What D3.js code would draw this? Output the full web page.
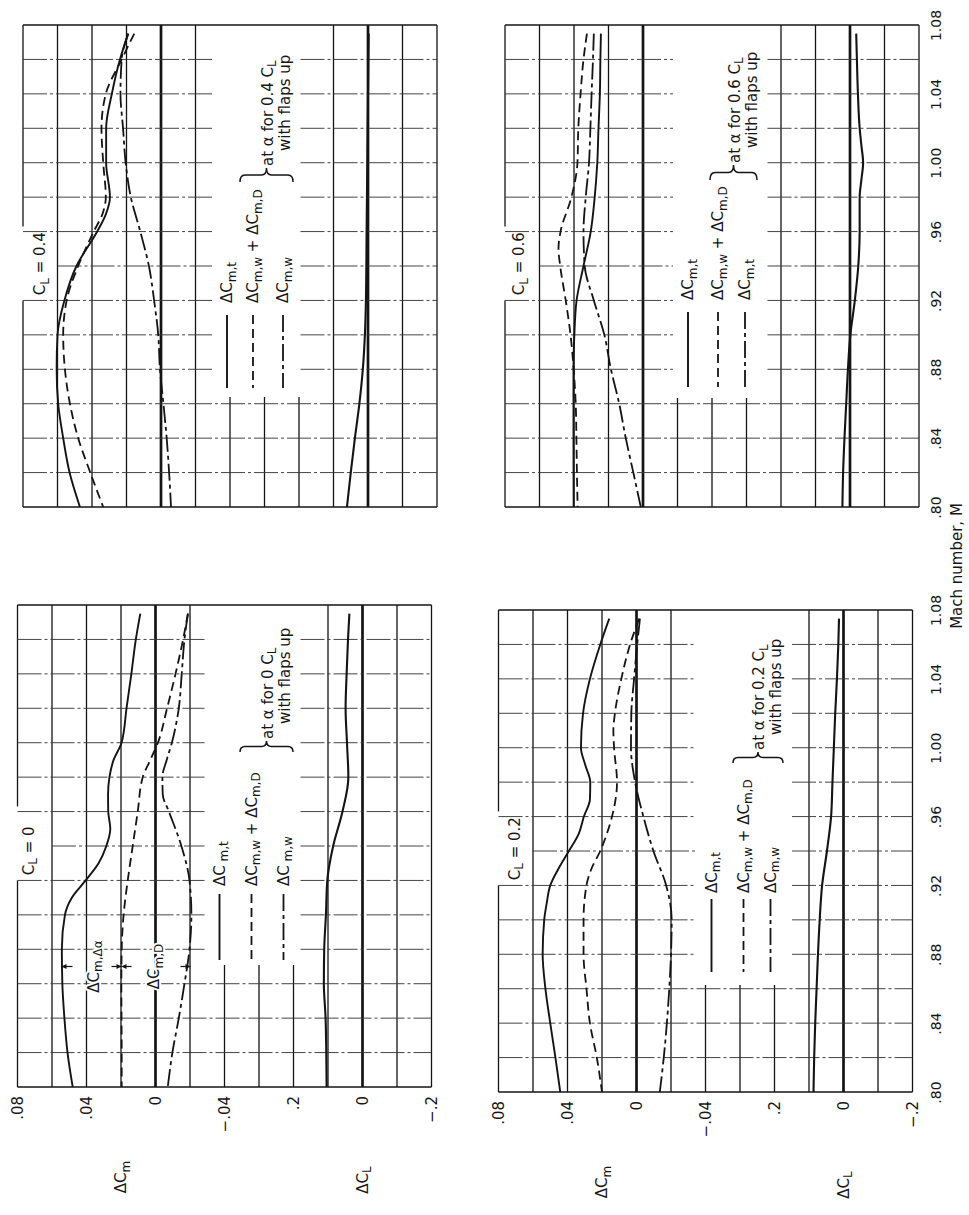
<!DOCTYPE html>
<html><head><meta charset="utf-8">
<script src="https://cdn.jsdelivr.net/npm/d3@7"></script>
<style>
body{margin:0;background:#fff}
svg{display:block}
text{font-family:"DejaVu Sans","Liberation Sans",sans-serif;fill:#161616}
</style>
</head><body>
<svg id="c" width="969" height="1215"></svg>
<script>
// ---------------- DATA ----------------
const MACH_TICKS = [0.80, 0.84, 0.88, 0.92, 0.96, 1.00, 1.04, 1.08];
const MACH_LABELS = [".80", ".84", ".88", ".92", ".96", "1.00", "1.04", "1.08"];
const CM_TICKS = [0.08, 0.04, 0, -0.04];
const CM_LABELS = [".08", ".04", "0", "\u2212.04"];
const CL_TICKS = [0.2, 0, -0.2];
const CL_LABELS = [".2", "0", "\u2212.2"];
const PANEL_CL = ["0", "0.2", "0.4", "0.6"];

// [Mach, value]  — C_L = 0
const cl0_cmt  = [[0.80,0.048],[0.82,0.051],[0.84,0.0528],[0.86,0.054],[0.88,0.0543],[0.90,0.0525],[0.91,0.0485],[0.92,0.0405],[0.93,0.033],[0.94,0.0285],[0.95,0.0262],[0.96,0.0274],[0.97,0.0275],[0.98,0.0267],[0.99,0.0243],[1.00,0.0197],[1.02,0.0168],[1.04,0.014],[1.06,0.0114],[1.075,0.0088]];
const cl0_cmwd = [[0.80,0.0196],[0.82,0.0196],[0.84,0.0197],[0.86,0.0198],[0.88,0.0196],[0.90,0.0185],[0.92,0.0161],[0.94,0.0132],[0.96,0.0103],[0.98,0.0074],[0.99,0.003],[1.00,-0.0014],[1.02,-0.0067],[1.04,-0.0116],[1.06,-0.016],[1.075,-0.0188]];
const cl0_cmw  = [[0.80,-0.0071],[0.82,-0.0098],[0.84,-0.0135],[0.86,-0.0168],[0.88,-0.0197],[0.90,-0.0208],[0.92,-0.0197],[0.94,-0.015],[0.96,-0.0078],[0.97,-0.0042],[0.98,-0.004],[0.99,-0.0065],[1.00,-0.0095],[1.02,-0.0135],[1.04,-0.0152],[1.06,-0.0168],[1.075,-0.0188]];
const cl0_dcl  = [[0.80,0.104],[0.82,0.105],[0.84,0.107],[0.86,0.112],[0.88,0.111],[0.90,0.106],[0.92,0.102],[0.94,0.085],[0.96,0.058],[0.98,0.041],[1.00,0.045],[1.02,0.049],[1.04,0.046],[1.06,0.042],[1.075,0.038]];
// C_L = 0.2
const cl2_cmt  = [[0.80,0.0442],[0.82,0.047],[0.84,0.050],[0.86,0.0528],[0.88,0.0544],[0.90,0.0535],[0.91,0.052],[0.92,0.050],[0.93,0.0451],[0.94,0.0392],[0.95,0.0335],[0.96,0.0305],[0.97,0.027],[0.98,0.0268],[0.99,0.0297],[1.00,0.0322],[1.02,0.031],[1.04,0.027],[1.06,0.021],[1.075,0.0158]];
const cl2_cmwd = [[0.80,0.020],[0.82,0.023],[0.84,0.027],[0.86,0.029],[0.88,0.0307],[0.90,0.0307],[0.92,0.029],[0.93,0.026],[0.94,0.021],[0.95,0.0172],[0.96,0.0142],[0.98,0.0113],[1.00,0.013],[1.01,0.0134],[1.02,0.0125],[1.04,0.0088],[1.06,0.0037],[1.075,-0.0015]];
const cl2_cmw  = [[0.80,-0.0135],[0.82,-0.0158],[0.84,-0.0176],[0.86,-0.019],[0.88,-0.020],[0.90,-0.0204],[0.92,-0.0172],[0.94,-0.0098],[0.96,-0.004],[0.98,0.0008],[1.00,0.0032],[1.02,0.003],[1.04,0.0014],[1.06,-0.0004],[1.075,-0.002]];
const cl2_dcl  = [[0.80,0.087],[0.82,0.085],[0.84,0.082],[0.86,0.078],[0.88,0.074],[0.90,0.069],[0.92,0.062],[0.94,0.048],[0.96,0.036],[0.98,0.032],[1.00,0.028],[1.02,0.024],[1.04,0.019],[1.06,0.015],[1.075,0.013]];
// C_L = 0.4
const cl4_cmt  = [[0.80,0.047],[0.82,0.053],[0.84,0.0567],[0.86,0.0596],[0.88,0.0605],[0.90,0.060],[0.92,0.056],[0.94,0.049],[0.96,0.037],[0.97,0.032],[0.98,0.0296],[1.00,0.0318],[1.02,0.0318],[1.04,0.0285],[1.06,0.0238],[1.075,0.019]];
const cl4_cmwd = [[0.80,0.0335],[0.82,0.041],[0.84,0.048],[0.86,0.0528],[0.88,0.0557],[0.90,0.0567],[0.92,0.0547],[0.94,0.048],[0.96,0.039],[0.97,0.034],[0.98,0.032],[1.00,0.0335],[1.02,0.0345],[1.04,0.032],[1.06,0.0228],[1.075,0.0155]];
const cl4_cmw  = [[0.80,-0.0058],[0.82,-0.0047],[0.84,-0.0033],[0.86,-0.0014],[0.88,0.0006],[0.90,0.0016],[0.92,0.004],[0.94,0.007],[0.96,0.012],[0.98,0.0175],[1.00,0.0205],[1.02,0.022],[1.04,0.0235],[1.06,0.0228],[1.075,0.019]];
const cl4_dcl  = [[0.80,0.061],[0.82,0.050],[0.84,0.038],[0.86,0.025],[0.88,0.015],[0.90,0.009],[0.92,0.006],[0.96,0.004],[1.00,0.002],[1.04,0.0],[1.075,-0.002]];
// C_L = 0.6
const cl6_cmt  = [[0.80,0.0402],[0.84,0.0403],[0.88,0.0403],[0.90,0.0398],[0.92,0.0385],[0.94,0.0345],[0.96,0.0303],[0.98,0.028],[1.00,0.0265],[1.02,0.0258],[1.04,0.025],[1.06,0.0247],[1.075,0.0244]];
const cl6_cmwd = [[0.80,0.0379],[0.82,0.0383],[0.84,0.0386],[0.86,0.039],[0.88,0.0402],[0.90,0.042],[0.92,0.0448],[0.94,0.048],[0.95,0.049],[0.96,0.0478],[0.98,0.0415],[1.00,0.038],[1.02,0.0375],[1.04,0.0362],[1.06,0.0345],[1.075,0.0325]];
const cl6_cmw  = [[0.80,0.0013],[0.82,0.0056],[0.84,0.010],[0.86,0.0138],[0.88,0.0186],[0.90,0.0224],[0.92,0.0285],[0.94,0.0338],[0.96,0.0345],[0.98,0.0332],[1.00,0.0313],[1.02,0.0305],[1.04,0.0298],[1.06,0.029],[1.075,0.0285]];
const cl6_dcl  = [[0.80,0.022],[0.82,0.020],[0.84,0.016],[0.86,0.011],[0.88,0.006],[0.90,-0.001],[0.92,-0.014],[0.94,-0.024],[0.96,-0.028],[0.98,-0.028],[0.99,-0.033],[1.00,-0.038],[1.01,-0.033],[1.02,-0.028],[1.04,-0.023],[1.06,-0.020],[1.075,-0.018]];

// annotation on C_L = 0 panel: Mach, dCm_t, dCm_w+dCm_D, dCm_w
const ANNOT_CL0 = [0.870, 0.0545, 0.0197, -0.0203];

// legend labels: [text, isSubscript]
const LEG_T   = [["\u0394C",0],["m,t",1]];
const LEG_T0  = [["\u0394C",0],[" m,t",1]];
const LEG_WD  = [["\u0394C",0],["m,w",1],[" + \u0394C",0],["m,D",1]];
const LEG_W   = [["\u0394C",0],["m,w",1]];
const LEG_W0  = [["\u0394C",0],[" m,w",1]];

// ---------------- LAYOUT ----------------
const CW = 34.5, CH = 482/14;
const INK = "#141414";
const STY = [{dash:null,w:1.9},{dash:"9,5",w:1.8},{dash:"17,4,4,4",w:1.8},{dash:null,w:2.1}];

const PANELS = [
  {cl:PANEL_CL[0], left:17.5, top:605, series:[cl0_cmt,cl0_cmwd,cl0_cmw,cl0_dcl], legend:[LEG_T0,LEG_WD,LEG_W0],
   leg:[202,234,266], textY:281, samp:[289,355], brace:[222.5,275.5,147,136], boxBottom:360, titleX:11, valueAxis:true, machAxis:false, annot:true},
  {cl:PANEL_CL[1], left:498.5, top:610, series:[cl2_cmt,cl2_cmwd,cl2_cmw,cl2_dcl], legend:[LEG_T,LEG_WD,LEG_W],
   leg:[213,245,272], textY:283, samp:[289,362], brace:[234.5,284.5,153,142], boxBottom:375, titleX:16, valueAxis:true, machAxis:true},
  {cl:PANEL_CL[2], left:23, top:25, series:[cl4_cmt,cl4_cmwd,cl4_cmw,cl4_dcl], legend:[LEG_T,LEG_WD,LEG_W],
   leg:[204,230,260], textY:278, samp:[290,363], brace:[217,270,157,143], boxBottom:372, titleX:17, valueAxis:false, machAxis:false},
  {cl:PANEL_CL[3], left:505, top:25, series:[cl6_cmt,cl6_cmwd,cl6_cmw,cl6_dcl], legend:[LEG_T,LEG_WD,LEG_T],
   leg:[183,213,240], textY:275, samp:[287,362], brace:[205,252,155,140], boxBottom:373, titleX:14, valueAxis:false, machAxis:true}
];

const svg = d3.select("#c");
svg.append("rect").attr("width",969).attr("height",1215).attr("fill","#fff");

function rtext(g, x, y, parts, opt={}) {
  const t = g.append("text")
    .attr("transform", `translate(${x},${y}) rotate(-90)`)
    .attr("dy", "0.35em")
    .attr("text-anchor", opt.anchor || "start")
    .style("font-size", (opt.size || 15) + "px");
  if (opt.halo) t.attr("stroke","#fff").attr("stroke-width",4).attr("paint-order","stroke");
  let sub = false;
  parts.forEach(([s, isSub]) => {
    const ts = t.append("tspan").text(s);
    if (isSub) { ts.style("font-size","0.8em"); if (!sub) ts.attr("dy", 3.5); sub = true; }
    else if (sub) { ts.attr("dy", -3.5); sub = false; }
  });
  return t;
}
function bracePath(x0, x1, yb, yt) {
  const xm = (x0+x1)/2, ym = (yb+yt)/2;
  return `M${x0},${yb} Q${x0},${ym} ${x0+5},${ym} L${xm-5},${ym} Q${xm},${ym} ${xm},${yt} ` +
         `Q${xm},${ym} ${xm+5},${ym} L${x1-5},${ym} Q${x1},${ym} ${x1},${yb}`;
}

PANELS.forEach(p => {
  const g = svg.append("g").attr("transform", `translate(${p.left},${p.top})`);
  const W = 12*CW, H = 14*CH;
  const yM = d3.scaleLinear().domain([0.80,1.08]).range([H,0]);
  const xCm = d3.scaleLinear().domain([0.08,-0.04]).range([0,6*CW]);
  const xCL = d3.scaleLinear().domain([0.2,-0.2]).range([8*CW,12*CW]);
  const braceMid = (p.brace[0]+p.brace[1])/2;
  const l1x = braceMid + 1, l2x = braceMid + 18;
  const boxX0 = p.leg[0] - 15, boxX1 = l2x + 16;
  const tY0 = yM(0.963), tY1 = yM(0.92);

  // vertical grid lines (constant coefficient)
  const vsegs = [];
  d3.range(13).forEach(c => {
    const x = c*CW;
    let segs = [[0,H]];
    if (x > boxX0 && x < boxX1) segs = [[p.boxBottom, H]];
    if (c === 0) segs = [[0,tY0],[tY1,H]];
    segs.forEach(s => vsegs.push({x, y0:s[0], y1:s[1], heavy:(c===4||c===10)}));
  });
  g.append("g").selectAll("line").data(vsegs).join("line")
    .attr("x1", d=>d.x).attr("x2", d=>d.x).attr("y1", d=>d.y0).attr("y2", d=>d.y1)
    .attr("stroke", INK).attr("stroke-width", d=>d.heavy?2.7:1.3);

  // horizontal grid lines (constant Mach)
  const hsegs = [];
  d3.range(15).forEach(k => {
    const y = yM(0.80 + 0.02*k);
    const frame = (k===0 || k===14);
    let segs = [[0,W]];
    if (!frame && y < p.boxBottom) segs = [[0,boxX0],[boxX1,W]];
    if (k === 7) segs = segs.map(s => s[0]===0 ? [CW, s[1]] : s);
    segs.forEach(s => hsegs.push({y, x0:s[0], x1:s[1], frame}));
  });
  g.append("g").selectAll("line").data(hsegs).join("line")
    .attr("x1", d=>d.x0).attr("x2", d=>d.x1).attr("y1", d=>d.y).attr("y2", d=>d.y)
    .attr("stroke", d=>d.frame?INK:"#3a3a3a").attr("stroke-width", d=>d.frame?1.4:0.95)
    .attr("stroke-dasharray", d=>d.frame?null:"24,3,3,3");

  // curves
  p.series.forEach((ser, i) => {
    const xs = i < 3 ? xCm : xCL;
    const line = d3.line().x(d=>xs(d[1])).y(d=>yM(d[0])).curve(d3.curveMonotoneY);
    const pts = ser.slice().sort((a,b)=>b[0]-a[0]);
    g.append("path").attr("d", line(pts)).attr("fill","none").attr("stroke",INK)
      .attr("stroke-width", STY[i].w).attr("stroke-dasharray", STY[i].dash)
      .attr("stroke-linejoin","round");
  });

  // legend
  p.legend.forEach((parts, i) => {
    const x = p.leg[i];
    g.append("line").attr("x1",x).attr("x2",x).attr("y1",p.samp[0]).attr("y2",p.samp[1])
      .attr("stroke",INK).attr("stroke-width",STY[i].w).attr("stroke-dasharray",STY[i].dash);
    rtext(g, x, p.textY, parts);
  });
  g.append("path").attr("d", bracePath(p.brace[0], p.brace[1], p.brace[2], p.brace[3]))
    .attr("fill","none").attr("stroke",INK).attr("stroke-width",1.5);
  rtext(g, l1x, p.brace[3]-2, [["at \u03b1 for "+p.cl+" C",0],["L",1]]);
  rtext(g, l2x, p.brace[3]-17, [["with flaps up",0]]);

  // panel title
  rtext(g, p.titleX, yM(0.923), [["C",0],["L",1],[" = "+p.cl,0]]);

  // annotation (C_L = 0)
  if (p.annot) {
    const y = yM(ANNOT_CL0[0]);
    const x1 = xCm(ANNOT_CL0[1]), x2 = xCm(ANNOT_CL0[2]), x3 = xCm(ANNOT_CL0[3]);
    const arrows = [[x1+11,x1],[x2-10,x2],[x2+10,x2],[x3-10,x3]];
    arrows.forEach(([a,b]) => {
      g.append("line").attr("x1",a).attr("x2",b).attr("y1",y).attr("y2",y).attr("stroke",INK).attr("stroke-width",1.2);
      const dir = Math.sign(b-a);
      g.append("path").attr("d",`M${b},${y} L${b-dir*5},${y-2.5} L${b-dir*5},${y+2.5} Z`).attr("fill",INK);
    });
    rtext(g, (x1+x2)/2 + 2, y, [["\u0394C",0],["m,\u0394\u03b1",1]], {anchor:"middle", halo:true});
    rtext(g, (x2+x3)/2 - 2, y, [["\u0394C",0],["m,D",1]], {anchor:"middle", halo:true});
  }

  // coefficient axes (bottom row of the page)
  if (p.valueAxis) {
    const mk = (scale, vals, labs) => {
      const ax = d3.axisBottom(scale).tickValues(vals).tickFormat((d,i)=>labs[i]).tickSize(0).tickPadding(0);
      const ga = g.append("g").attr("transform",`translate(0,${H})`).call(ax);
      ga.attr("font-family",null).attr("font-size",null);
      ga.select(".domain").remove();
      ga.selectAll("text").attr("transform","rotate(-90)").attr("x",-9).attr("y",0)
        .attr("dy","0.35em").attr("text-anchor","end").style("font-size","15px").attr("fill",INK);
    };
    mk(xCm, CM_TICKS, CM_LABELS);
    mk(xCL, CL_TICKS, CL_LABELS);
    rtext(g, xCm(0.02), H+90, [["\u0394C",0],["m",1]], {anchor:"middle"});
    rtext(g, xCL(0), H+93, [["\u0394C",0],["L",1]], {anchor:"middle"});
  }
  // Mach axis (right column)
  if (p.machAxis) {
    const ax = d3.axisRight(yM).tickValues(MACH_TICKS).tickFormat((d,i)=>MACH_LABELS[i]).tickSize(0).tickPadding(0);
    const ga = g.append("g").attr("transform",`translate(${936-p.left},0)`).call(ax);
    ga.attr("font-family",null).attr("font-size",null);
    ga.select(".domain").remove();
    ga.selectAll("text").attr("transform","rotate(-90)").attr("x",0).attr("y",0)
      .attr("dy","0.35em").attr("text-anchor","middle").style("font-size","14px").attr("fill",INK);
  }
});

rtext(svg, 957, 566, [["Mach number, M",0]], {anchor:"middle"});
</script>
</body></html>
